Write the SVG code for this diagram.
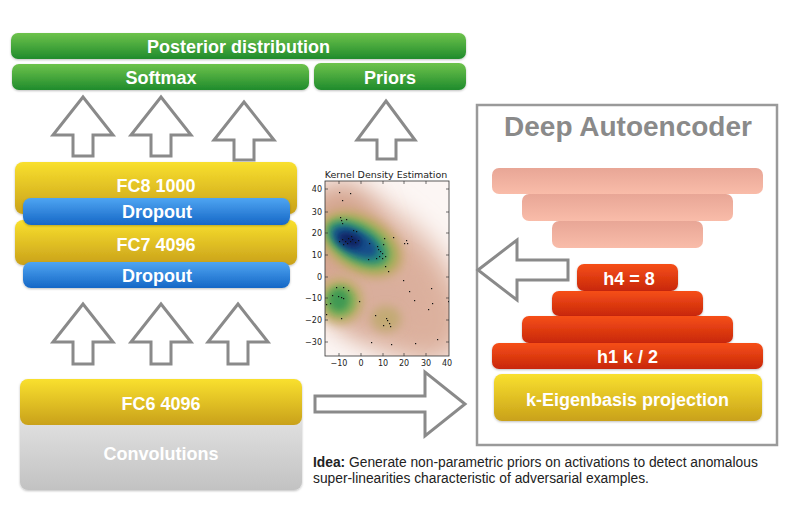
<svg xmlns="http://www.w3.org/2000/svg" width="798" height="528" viewBox="0 0 798 528">
<defs>
<linearGradient id="gGreen" x1="0" y1="0" x2="0" y2="1"><stop offset="0" stop-color="#6ec34c"/><stop offset="1" stop-color="#1f8b2c"/></linearGradient>
<linearGradient id="gYellow" x1="0" y1="0" x2="0" y2="1"><stop offset="0" stop-color="#f9e02e"/><stop offset="1" stop-color="#c9a11a"/></linearGradient>
<linearGradient id="gBlue" x1="0" y1="0" x2="0" y2="1"><stop offset="0" stop-color="#4ea5f2"/><stop offset="1" stop-color="#1667c6"/></linearGradient>
<linearGradient id="gGray" x1="0" y1="0" x2="0" y2="1"><stop offset="0" stop-color="#f2f2f2"/><stop offset="1" stop-color="#c2c2c2"/></linearGradient>
<linearGradient id="gPink" x1="0" y1="0" x2="0" y2="1"><stop offset="0" stop-color="#e8a696"/><stop offset="1" stop-color="#f9bca9"/></linearGradient>
<linearGradient id="gRed" x1="0" y1="0" x2="0" y2="1"><stop offset="0" stop-color="#f64f18"/><stop offset="1" stop-color="#c8270a"/></linearGradient>
<filter id="shadow" x="-5%" y="-20%" width="110%" height="150%"><feDropShadow dx="0" dy="1" stdDeviation="1" flood-color="#000" flood-opacity="0.25"/></filter>
<filter id="b14" x="-50%" y="-50%" width="200%" height="200%"><feGaussianBlur stdDeviation="14"/></filter>
<filter id="b8" x="-50%" y="-50%" width="200%" height="200%"><feGaussianBlur stdDeviation="8"/></filter>
<filter id="b5" x="-50%" y="-50%" width="200%" height="200%"><feGaussianBlur stdDeviation="5"/></filter>
<filter id="b3" x="-50%" y="-50%" width="200%" height="200%"><feGaussianBlur stdDeviation="3"/></filter>
<clipPath id="plotclip"><rect x="325" y="181" width="124" height="175"/></clipPath>
<style>
.lbl{font-family:"Liberation Sans",Arial,sans-serif;font-weight:bold;font-size:18px;fill:#fff;text-anchor:middle}
.arrow{fill:#fff;stroke:#8a8a8a;stroke-width:3;stroke-linejoin:miter}
.tick{font-family:"DejaVu Sans",sans-serif;font-size:8px;fill:#222}
.cap{font-family:"Liberation Sans",Arial,sans-serif;font-size:13.8px;fill:#222}
.dot{fill:#111}
</style>
</defs>
<rect width="798" height="528" fill="#fff"/>

<g id="posterior"><rect x="11" y="33" width="455" height="26" rx="7" fill="url(#gGreen)" filter="url(#shadow)"/><text class="lbl" x="238.5" y="52.5">Posterior distribution</text></g>
<g id="softmax"><rect x="12" y="64" width="297" height="26" rx="7" fill="url(#gGreen)" filter="url(#shadow)"/><text class="lbl" x="161" y="83.5">Softmax</text></g>
<g id="priors"><rect x="314" y="63" width="152" height="27" rx="7" fill="url(#gGreen)" filter="url(#shadow)"/><text class="lbl" x="390" y="83.5">Priors</text></g>

<g id="fc8"><rect x="15" y="162" width="282" height="52" rx="8" fill="url(#gYellow)" filter="url(#shadow)"/><text class="lbl" x="156" y="192">FC8 1000</text></g>
<g id="fc7"><rect x="15" y="220" width="282" height="45" rx="8" fill="url(#gYellow)" filter="url(#shadow)"/><text class="lbl" x="156" y="250.5">FC7 4096</text></g>
<g id="dropout1"><rect x="23" y="198" width="267" height="27" rx="8" fill="url(#gBlue)" filter="url(#shadow)"/><text class="lbl" x="157" y="218">Dropout</text></g>
<g id="dropout2"><rect x="23" y="262" width="267" height="26" rx="8" fill="url(#gBlue)" filter="url(#shadow)"/><text class="lbl" x="157" y="282">Dropout</text></g>

<g id="convolutions"><rect x="20" y="379" width="282" height="111" rx="8" fill="url(#gGray)" filter="url(#shadow)"/><text class="lbl" x="161" y="460">Convolutions</text></g>
<g id="fc6"><rect x="20" y="379" width="282" height="46" rx="8" fill="url(#gYellow)"/><text class="lbl" x="161" y="409.5">FC6 4096</text></g>

<g id="kde">
<text x="386" y="178" font-family="DejaVu Sans, sans-serif" font-size="9.5" fill="#222" text-anchor="middle">Kernel Density Estimation</text>
<g clip-path="url(#plotclip)">
<rect x="325" y="181" width="124" height="175" fill="#fcf6f4"/>
<ellipse cx="382" cy="278" rx="105" ry="58" transform="rotate(45 382 278)" fill="#dcb09d" filter="url(#b14)"/>
<ellipse cx="342" cy="245" rx="38" ry="62" fill="#d4a48f" filter="url(#b14)"/>
<ellipse cx="370" cy="300" rx="45" ry="35" fill="#d9ae9c" filter="url(#b14)"/>
<ellipse cx="361" cy="244" rx="46" ry="29" transform="rotate(30 361 244)" fill="#c3a96c" filter="url(#b5)"/>
<ellipse cx="360" cy="244" rx="40" ry="24" transform="rotate(30 360 244)" fill="#a2af5a" filter="url(#b3)"/>
<ellipse cx="358" cy="243" rx="35" ry="19" transform="rotate(30 358 243)" fill="#55a35e" filter="url(#b3)"/>
<ellipse cx="357" cy="243" rx="30" ry="14" transform="rotate(30 357 243)" fill="#228580" filter="url(#b3)"/>
<ellipse cx="355" cy="242" rx="24" ry="11" transform="rotate(28 355 242)" fill="#164e8a" filter="url(#b3)"/>
<ellipse cx="350" cy="240" rx="12" ry="7" transform="rotate(20 350 240)" fill="#0b2462" filter="url(#b3)"/>
<ellipse cx="340" cy="301" rx="23" ry="23" fill="#c0ad6a" filter="url(#b5)"/>
<ellipse cx="340" cy="301" rx="16" ry="16" fill="#7fae58" filter="url(#b3)"/>
<ellipse cx="339" cy="300" rx="10" ry="11" fill="#3f9a52" filter="url(#b3)"/>
<ellipse cx="386" cy="319" rx="15" ry="13" fill="#c3aa74" filter="url(#b5)"/>
<g class="dot">
<rect x="339" y="192" width="1.2" height="1.2"/><rect x="350" y="193" width="1.2" height="1.2"/><rect x="342" y="200" width="1.2" height="1.2"/>
<rect x="340" y="217" width="1.2" height="1.2"/><rect x="341" y="220" width="1.2" height="1.2"/><rect x="346" y="219" width="1.2" height="1.2"/><rect x="342" y="223" width="1.2" height="1.2"/>
<rect x="353" y="230" width="1.2" height="1.2"/><rect x="356" y="231" width="1.2" height="1.2"/>
<rect x="339" y="241" width="1.2" height="1.2"/><rect x="342" y="239" width="1.2" height="1.2"/><rect x="345" y="241" width="1.2" height="1.2"/><rect x="348" y="238" width="1.2" height="1.2"/><rect x="350" y="241" width="1.2" height="1.2"/><rect x="352" y="239" width="1.2" height="1.2"/><rect x="355" y="242" width="1.2" height="1.2"/><rect x="347" y="243" width="1.2" height="1.2"/><rect x="343" y="244" width="1.2" height="1.2"/><rect x="358" y="240" width="1.2" height="1.2"/><rect x="351" y="236" width="1.2" height="1.2"/>
<rect x="369" y="243" width="1.2" height="1.2"/><rect x="377" y="246" width="1.2" height="1.2"/><rect x="384" y="238" width="1.2" height="1.2"/><rect x="383" y="244" width="1.2" height="1.2"/>
<rect x="378" y="249" width="1.2" height="1.2"/><rect x="380" y="251" width="1.2" height="1.2"/><rect x="382" y="253" width="1.2" height="1.2"/><rect x="379" y="256" width="1.2" height="1.2"/><rect x="385" y="256" width="1.2" height="1.2"/><rect x="376" y="258" width="1.2" height="1.2"/><rect x="382" y="258" width="1.2" height="1.2"/><rect x="368" y="259" width="1.2" height="1.2"/><rect x="385" y="266" width="1.2" height="1.2"/><rect x="388" y="271" width="1.2" height="1.2"/>
<rect x="393" y="237" width="1.2" height="1.2"/><rect x="406" y="240" width="1.2" height="1.2"/><rect x="407" y="243" width="1.2" height="1.2"/><rect x="404" y="243" width="1.2" height="1.2"/>
<rect x="403" y="280" width="1.2" height="1.2"/><rect x="409" y="291" width="1.2" height="1.2"/><rect x="414" y="300" width="1.2" height="1.2"/>
<rect x="431" y="288" width="1.2" height="1.2"/><rect x="432" y="303" width="1.2" height="1.2"/><rect x="428" y="309" width="1.2" height="1.2"/><rect x="448" y="301" width="1.2" height="1.2"/>
<rect x="359" y="301" width="1.2" height="1.2"/>
<rect x="332" y="295" width="1.2" height="1.2"/><rect x="336" y="287" width="1.2" height="1.2"/><rect x="343" y="287" width="1.2" height="1.2"/><rect x="348" y="290" width="1.2" height="1.2"/><rect x="338" y="296" width="1.2" height="1.2"/><rect x="341" y="297" width="1.2" height="1.2"/><rect x="343" y="298" width="1.2" height="1.2"/><rect x="330" y="303" width="1.2" height="1.2"/><rect x="326" y="304" width="1.2" height="1.2"/><rect x="326" y="314" width="1.2" height="1.2"/><rect x="341" y="318" width="1.2" height="1.2"/>
<rect x="375" y="315" width="1.2" height="1.2"/><rect x="386" y="318" width="1.2" height="1.2"/><rect x="387" y="320" width="1.2" height="1.2"/><rect x="389" y="323" width="1.2" height="1.2"/><rect x="383" y="325" width="1.2" height="1.2"/><rect x="390" y="326" width="1.2" height="1.2"/>
<rect x="391" y="344" width="1.2" height="1.2"/><rect x="371" y="342" width="1.2" height="1.2"/><rect x="415" y="343" width="1.2" height="1.2"/><rect x="437" y="339" width="1.2" height="1.2"/>
</g>
</g>
<rect x="325" y="181" width="124" height="175" fill="none" stroke="#333" stroke-width="0.8"/>
<g stroke="#333" stroke-width="0.7">
<path d="M325 189h3M325 212h3M325 233h3M325 255h3M325 277h3M325 298h3M325 320h3M325 342h3"/>
<path d="M449 189h-3M449 212h-3M449 233h-3M449 255h-3M449 277h-3M449 298h-3M449 320h-3M449 342h-3"/>
<path d="M339 356v-3M361 356v-3M383 356v-3M404 356v-3M426 356v-3M339 181v3M361 181v3M383 181v3M404 181v3M426 181v3"/>
</g>
<g class="tick" text-anchor="end">
<text x="322" y="192">40</text><text x="322" y="215">30</text><text x="322" y="236">20</text><text x="322" y="258">10</text><text x="322" y="280">0</text><text x="322" y="301">−10</text><text x="322" y="323">−20</text><text x="322" y="345">−30</text>
</g>
<g class="tick" text-anchor="middle">
<text x="339" y="366">−10</text><text x="361" y="366">0</text><text x="383" y="366">10</text><text x="404" y="366">20</text><text x="426" y="366">30</text><text x="447" y="366">40</text>
</g>
</g>

<g id="autoencoder">
<rect x="477" y="105" width="300" height="340" fill="none" stroke="#9a9a9a" stroke-width="2.5"/>
<text x="628" y="136" font-family="Liberation Sans, Arial, sans-serif" font-weight="bold" font-size="28" fill="#8a8a8a" text-anchor="middle">Deep Autoencoder</text>
</g>
<g id="dec1"><rect x="492" y="168" width="271" height="26" rx="7" fill="url(#gPink)"/></g>
<g id="dec2"><rect x="522" y="194" width="211" height="27" rx="7" fill="url(#gPink)"/></g>
<g id="dec3"><rect x="552" y="221" width="151" height="27" rx="7" fill="url(#gPink)"/></g>
<g id="h4"><rect x="577" y="264" width="101" height="27" rx="7" fill="url(#gRed)" filter="url(#shadow)"/><text class="lbl" x="629" y="284.5">h4 = 8</text></g>
<g id="h3"><rect x="552" y="291" width="151" height="25" rx="7" fill="url(#gRed)" filter="url(#shadow)"/></g>
<g id="h2"><rect x="522" y="316" width="211" height="27" rx="7" fill="url(#gRed)" filter="url(#shadow)"/></g>
<g id="h1"><rect x="492" y="343" width="271" height="26" rx="7" fill="url(#gRed)" filter="url(#shadow)"/><text class="lbl" x="627.5" y="362.5">h1 k / 2</text></g>
<g id="eigen"><rect x="494" y="374" width="268" height="47" rx="8" fill="url(#gYellow)" filter="url(#shadow)"/><text class="lbl" x="627.5" y="405.5">k-Eigenbasis projection</text></g>

<g id="connectors">
<polygon class="arrow" points="83,97 113,135 93,135 93,156 73,156 73,135 53,135"/>
<polygon class="arrow" points="161,97 191,135 171,135 171,156 151,156 151,135 131,135"/>
<polygon class="arrow" points="244,102 274,140 254,140 254,160 234,160 234,140 214,140"/>
<polygon class="arrow" points="386,101 415,140 396,140 396,159 377,159 377,140 357,140"/>
<polygon class="arrow" points="83,304 113,342 93,342 93,364 73,364 73,342 53,342"/>
<polygon class="arrow" points="161,304 191,342 171,342 171,364 151,364 151,342 131,342"/>
<polygon class="arrow" points="238,304 268,342 248,342 248,364 228,364 228,342 208,342"/>
<polygon class="arrow" points="315,396 425,396 425,372 465,404 425,436 425,412 315,412"/>
<polygon class="arrow" points="478,270 517,240 517,260 568,260 568,280 517,280 517,300"/>
</g>

<g id="caption">
<text class="cap" x="313" y="467"><tspan font-weight="bold">Idea:</tspan> Generate non-parametric priors on activations to detect anomalous</text>
<text class="cap" x="313" y="483">super-linearities characteristic of adversarial examples.</text>
</g>
</svg>
